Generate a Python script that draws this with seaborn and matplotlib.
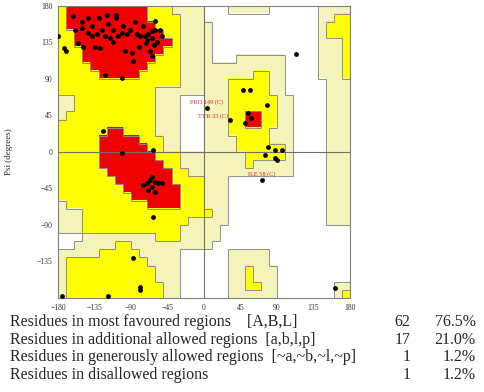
import numpy as np
import pandas as pd
import matplotlib
matplotlib.use('Agg')
import matplotlib.pyplot as plt
from matplotlib.colors import ListedColormap
from matplotlib.collections import LineCollection
import seaborn as sns

# region map, 10 degree cells, rows from psi=180 down, cols from phi=-180
# 0 = disallowed, 1 = generously allowed, 2 = additional allowed, 3 = most favoured
region_left = [
    "2" + "3"*10 + "222" + "1111",
    "2" + "3"*10 + "2222" + "111",
    "2" + "3"*11 + "222" + "111",
    "22" + "3"*11 + "22" + "111",
    "22" + "3"*12 + "2" + "111",
    "222" + "3"*10 + "22" + "111",
    "222" + "3"*9 + "222" + "111",
    "2222" + "3"*7 + "2222" + "111",
    "22222" + "3"*5 + "22222" + "111",
    "2"*15 + "111",
    "2"*12 + "1"*6,
    "11" + "2"*10 + "111" + "000",
    "11" + "2"*10 + "111" + "000",
    "1" + "2"*11 + "111" + "000",
    "2"*12 + "111" + "000",
    "2"*6 + "33" + "2222" + "111" + "000",
    "2"*5 + "3"*5 + "222" + "11" + "000",
    "2"*5 + "3"*6 + "22" + "11" + "000",
    "2"*5 + "3"*7 + "222" + "111",
    "2"*5 + "3"*8 + "22" + "111",
    "2"*6 + "3"*8 + "22" + "11",
    "2"*7 + "3"*7 + "2222",
    "2"*8 + "3"*7 + "222",
    "2"*9 + "3"*6 + "222",
    "1" + "2"*10 + "3"*4 + "222",
    "111" + "2"*15,
    "111" + "2"*13 + "11",
    "111" + "2"*12 + "111",
    "000" + "1"*9 + "222" + "111",
    "00" + "11111" + "22" + "1"*9,
    "11111" + "22222" + "11111" + "000",
    "1" + "2"*10 + "1111" + "000",
    "1" + "2"*11 + "111" + "000",
    "1" + "2"*11 + "111" + "000",
    "1" + "2"*12 + "11" + "000",
    "1" + "2"*12 + "11" + "000",
]
region_right = [
    "000" + "11111" + "000000" + "1111",
    "0"*14 + "11" + "22",
    "1" + "0"*13 + "1" + "222",
    "1" + "0"*13 + "1" + "222",
    "1" + "0"*13 + "111" + "2",
    "1" + "0"*13 + "111" + "2",
    "1" + "000" + "1"*6 + "0000" + "111" + "2",
    "1"*10 + "0000" + "111" + "2",
    "1"*6 + "22" + "11" + "0000" + "111" + "2",
    "111" + "22222" + "11" + "00000" + "111",
    "111" + "22222" + "11" + "00000" + "111",
    "111" + "2"*6 + "11" + "0000" + "111",
    "111" + "2"*6 + "11" + "0000" + "111",
    "111" + "22" + "33" + "22" + "11" + "0000" + "111",
    "111" + "22" + "33" + "22" + "11" + "0000" + "111",
    "111" + "22222" + "111" + "0000" + "111",
    "1111" + "2222" + "111" + "0000" + "111",
    "1111" + "2"*6 + "1" + "0000" + "111",
    "11111" + "22222" + "1" + "0000" + "111",
    "11111" + "2" + "11111" + "0000" + "111",
    "1"*11 + "0000" + "111",
    "111" + "0"*12 + "111",
    "111" + "0"*12 + "111",
    "111" + "0"*12 + "111",
    "111" + "0"*12 + "111",
    "2" + "11" + "0"*12 + "111",
    "111" + "0"*12 + "111",
    "11" + "0"*16,
    "11" + "0"*16,
    "1" + "0"*17,
    "000" + "11111" + "0"*10,
    "000" + "11111" + "0"*10,
    "000" + "11" + "2" + "111" + "0"*9,
    "000" + "11" + "2" + "111" + "0"*9,
    "000" + "11" + "22" + "11" + "0"*7 + "11",
    "000" + "1"*6 + "0"*7 + "12",
]

# residues (phi, psi)
phi = [-179.6, -172, -170, -161, -143, -130, -120, -108, -108, -159,
       -151, -143, -132, -126, -122, -116, -101, -95, -83, -79,
       -73, -69, -64.5, -64.5, -60.4, -54, -52, -58, -62, -71,
       -155, -149, -134, -128, -97, -89, -66.5, -64.5, -87, -122,
       -101, -138.5, -105.6, -91, -112, -150, -138, -118, -100, -85,
       -75, -70, -60, -112, -80,
       -124, -101.5, -62.5, -70.7, -66.6, -64.5, -60.4, -56.3, -64.5, -60.4,
       -68.6, -52.2, -74.8, -62.5,
       -88, -118, -175, -79, -79,
       113.9, 48.5, 56.7, 77.3, 3.3, 32, 54.7, 50.6, 58, 79.3,
       87.6, 95.8, 75.2, 87.6, 89.6, 71.2, 161.2]
psi = [142.6, 128, 125, 168, 165, 165, 169, 169, 165, 151,
       153, 147, 145, 151, 143, 141, 147, 145, 145, 143,
       143, 145, 148.8, 140.5, 161, 151, 142.6, 136, 132, 134,
       134, 130, 130, 128, 124, 122, 124, 118, 112, 95,
       91, 142.6, 142.6, 151, 151, 160, 155, 158, 155, 160,
       155, 138, 150, 135, 130,
       25.5, -1.7, 2.4, -38.7, -34.6, -30.5, -36.6, -38.7, -42.8, -49,
       -46.9, -38.7, -40.8, -79.8,
       -131, -177, -177, -170, -166,
       121.2, 76.4, 76.4, 58, 53.9, 39.5, 47.7, 35.3, 42, 6.5,
       2.4, 2.4, -3.7, -7.8, -9.9, -34.5, -168]

labels = ["PRO 149 (C)", "TYR 33 (C)", "ILE 58 (C)"]
label_phi = [3.3, 32, 71.2]
label_psi = [53.9, 39.5, -34.5]

stat_names = ["Residues in most favoured regions    [A,B,L]",
              "Residues in additional allowed regions  [a,b,l,p]",
              "Residues in generously allowed regions  [~a,~b,~l,~p]",
              "Residues in disallowed regions"]
stat_counts = ["62", "17", "1", "1"]
stat_pct = ["76.5%", "21.0%", "1.2%", "1.2%"]

sns.set_style('white')
plt.rcParams['font.family'] = ['Liberation Serif', 'DejaVu Serif']

grid = np.array([[int(ch) for ch in (a + b)] for a, b in zip(region_left, region_right)])
df = pd.DataFrame({'phi': phi, 'psi': psi})

fig = plt.figure(figsize=(4.84, 3.92), dpi=100)
ax = fig.add_axes([0.1198, 0.2398, 0.6033, 0.7449])

cmap = ListedColormap(['#ffffff', '#f4f4ba', '#ffff00', '#f00000'])
ax.imshow(grid, cmap=cmap, vmin=0, vmax=3, extent=(-180, 180, -180, 180),
          origin='upper', interpolation='nearest', aspect='auto', zorder=0)

# region borders
segs = []
n = grid.shape[0]
for r in range(n):
    for c in range(n):
        x0 = -180 + 10 * c
        y_top = 180 - 10 * r
        if r + 1 < n and grid[r, c] != grid[r + 1, c]:
            segs.append([(x0, y_top - 10), (x0 + 10, y_top - 10)])
        if c + 1 < n and grid[r, c] != grid[r, c + 1]:
            segs.append([(x0 + 10, y_top), (x0 + 10, y_top - 10)])
ax.add_collection(LineCollection(segs, colors='#8c8c8c', linewidths=0.7, zorder=1))

ax.axhline(0, color='#707070', lw=0.8, zorder=1)
ax.axvline(0, color='#707070', lw=0.8, zorder=1)

sns.scatterplot(data=df, x='phi', y='psi', color='black', s=12, linewidth=0,
                legend=False, ax=ax, zorder=3)

for t, x, y in zip(labels, label_phi, label_psi):
    if t.startswith("TYR"):
        ax.text(x - 2, y + 1, t, color='#e02020', fontsize=4.5, ha='right', va='bottom', zorder=4)
    else:
        ax.text(x, y + 4, t, color='#e02020', fontsize=4.5, ha='center', va='bottom', zorder=4)

ax.set_xlim(-180, 180)
ax.set_ylim(-180, 180)
ax.set_xticks(range(-180, 181, 45))
ax.set_yticks(range(-135, 181, 45))
ax.tick_params(labelsize=5.5, length=2, width=0.6, colors='#333333', pad=2)
ax.set_xlabel('')
ax.set_ylabel('Psi (degrees)', fontsize=6.5)
ax.yaxis.set_label_coords(-0.155, 0.5)
for s in ax.spines.values():
    s.set_color('#808080')
    s.set_linewidth(0.8)

ys = [0.179, 0.133, 0.089, 0.043]
for name, cnt, pct, y in zip(stat_names, stat_counts, stat_pct, ys):
    fig.text(0.021, y, name, fontsize=11.5, va='center', ha='left')
    fig.text(0.848, y, cnt, fontsize=11.5, va='center', ha='right')
    fig.text(0.983, y, pct, fontsize=11.5, va='center', ha='right')

fig.savefig('out.png', dpi=100)
